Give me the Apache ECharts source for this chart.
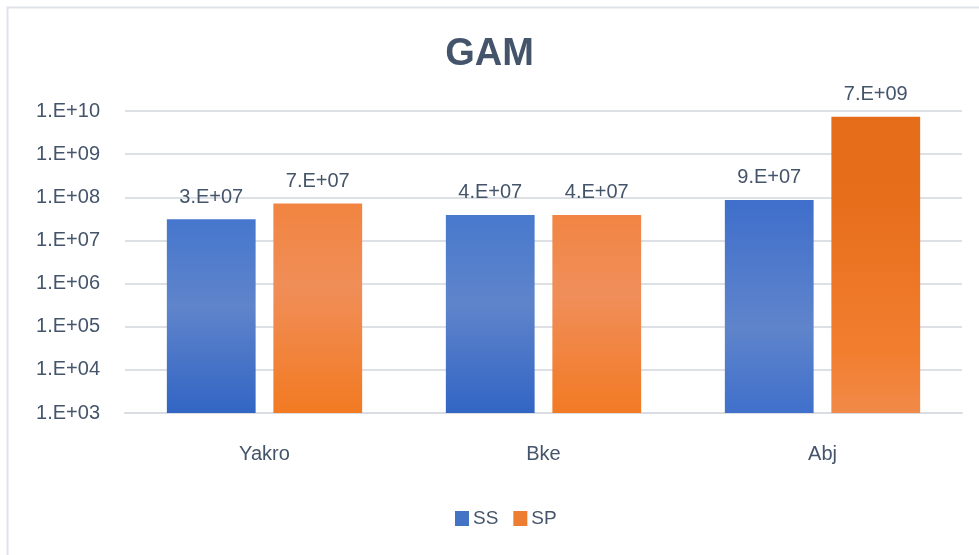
<!DOCTYPE html>
<html>
<head>
<meta charset="utf-8">
<script src="https://cdn.jsdelivr.net/npm/echarts@6/dist/echarts.min.js"></script>
<style>
html,body{margin:0;padding:0;background:#fff;}
#chart{width:979px;height:555px;}
</style>
</head>
<body>
<div id="chart"></div>
<script>
const title = 'GAM';
const categories = ['Yakro', 'Bke', 'Abj'];
const seriesNames = ['SS', 'SP'];
const ssValues = [3.1e7, 3.9e7, 8.7e7];
const spValues = [7.2e7, 3.9e7, 7.4e9];
const yMin = 1e3;
const yMax = 1e10;

const FONT = '"Liberation Sans", Arial, sans-serif';
const TEXT = '#44546a';

function grad(stops) {
  return new echarts.graphic.LinearGradient(0, 0, 0, 1,
    stops.map(s => ({ offset: s[0], color: s[1] })));
}
const ssStyles = [
  [[0, '#4677cd'], [0.45, '#5f84cb'], [1, '#3265c4']],
  [[0, '#4879cd'], [0.45, '#5f84cb'], [1, '#3265c4']],
  [[0, '#3f6fcb'], [0.6, '#5f84cb'], [1, '#4070cb']]
];
const spStyles = [
  [[0, '#f18440'], [0.4, '#f08e58'], [1, '#f27a22']],
  [[0, '#f18543'], [0.4, '#f08e5a'], [1, '#f27a24']],
  [[0, '#e56c18'], [0.3, '#e76f1c'], [0.8, '#f27e30'], [1, '#f08a48']]
];

function expLabel(v) {
  const s = Number(v).toExponential(0);
  const parts = s.split('e');
  const mant = parts[0];
  let e = parseInt(parts[1], 10);
  const sign = e < 0 ? '-' : '+';
  e = Math.abs(e);
  return mant + '.E' + sign + (e < 10 ? '0' + e : '' + e);
}

const chart = echarts.init(document.getElementById('chart'), null, { renderer: 'canvas' });

function buildData(values, styles) {
  return values.map((v, i) => ({ value: v, itemStyle: { color: grad(styles[i]) } }));
}

const labelCfg = {
  show: true,
  position: 'top',
  distance: 12,
  fontFamily: FONT,
  fontSize: 20,
  color: TEXT,
  formatter: p => expLabel(p.value)
};

chart.setOption({
  animation: false,
  backgroundColor: '#ffffff',
  graphic: [{
    type: 'rect',
    left: 5, top: 5,
    shape: { width: 1100, height: 700 },
    style: { fill: 'none', stroke: '#dfe3e9', lineWidth: 2 },
    silent: true,
    z: -10
  }],
  title: {
    text: title,
    left: 'center',
    top: 31,
    textStyle: { fontFamily: FONT, fontSize: 38, fontWeight: 'bold', color: TEXT }
  },
  legend: {
    data: seriesNames,
    top: 504,
    left: 450,
    itemWidth: 14,
    itemHeight: 15,
    itemGap: 15,
    icon: 'rect',
    textStyle: { fontFamily: FONT, fontSize: 19, color: TEXT, padding: [0, 0, 0, -1] }
  },
  grid: { left: 125, right: 17, top: 111, bottom: 142, containLabel: false },
  xAxis: {
    type: 'category',
    data: categories,
    axisLine: { show: true, lineStyle: { color: '#d9dde3', width: 2 } },
    axisTick: { show: false },
    axisLabel: { fontFamily: FONT, fontSize: 20, color: TEXT, margin: 31 }
  },
  yAxis: {
    type: 'log',
    logBase: 10,
    min: yMin,
    max: yMax,
    startValue: yMin,
    splitNumber: 7,
    axisLine: { show: false },
    axisTick: { show: false },
    splitLine: { show: true, lineStyle: { color: '#dde1e6', width: 2 } },
    axisLabel: { fontFamily: FONT, fontSize: 20, color: TEXT, margin: 25, formatter: v => expLabel(v) }
  },
  series: [
    {
      name: seriesNames[0], type: 'bar', clip: true,
      barGap: '20%', barCategoryGap: '30%',
      itemStyle: { color: '#4472c4' },
      data: buildData(ssValues, ssStyles),
      label: labelCfg
    },
    {
      name: seriesNames[1], type: 'bar', clip: true,
      barGap: '20%', barCategoryGap: '30%',
      itemStyle: { color: '#ed7d31' },
      data: buildData(spValues, spStyles),
      label: labelCfg
    }
  ]
});
</script>
</body>
</html>
